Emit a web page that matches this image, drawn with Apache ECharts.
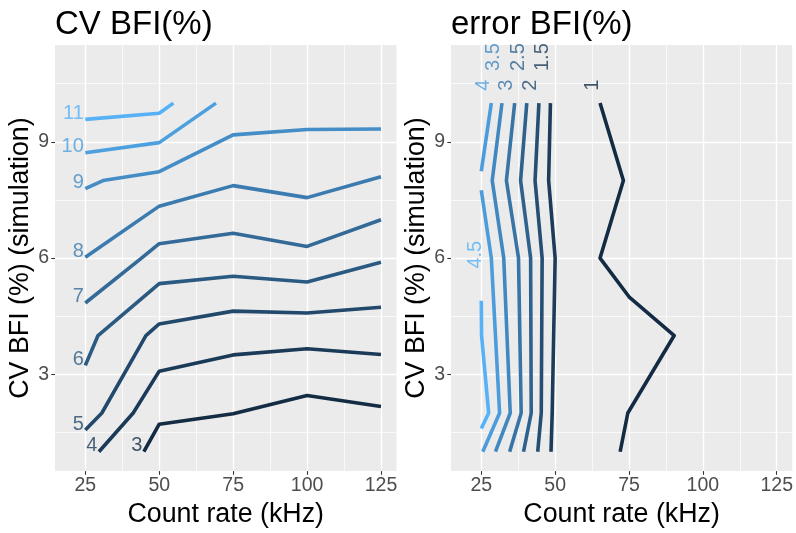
<!DOCTYPE html>
<html><head><meta charset="utf-8">
<script src="https://cdn.jsdelivr.net/npm/echarts@6/dist/echarts.min.js"></script>
<style>html,body{margin:0;padding:0;background:#fff}#c{width:796px;height:533px}</style>
</head><body><div id="c"></div>
<script>
// ---- axis ticks ----
const xMajor = [25, 50, 75, 100, 125];
const xMinor = [37.5, 62.5, 87.5, 112.5];
const yMajor = [3, 6, 9];
const yMinor = [1.5, 4.5, 7.5, 10.5];
const X_MIN = 14.75, X_MAX = 130.25, Y_MIN = 0.5, Y_MAX = 11.5;

// ---- left panel: CV BFI(%) contour paths [count rate (kHz), CV BFI (%)] ----
const cvLevels = [3, 4, 5, 6, 7, 8, 9, 10, 11];
const cv3 = [[44.8,1],[50,1.71],[75,1.98],[100,2.45],[125,2.17]];
const cv4 = [[29.6,1],[41.2,2],[50,3.08],[75,3.5],[100,3.66],[125,3.51]];
const cv5 = [[25,1.56],[30.6,2],[45.5,4],[50,4.3],[75,4.63],[100,4.58],[125,4.73]];
const cv6 = [[25,3.23],[29.3,4],[50,5.34],[75,5.53],[100,5.38],[125,5.89]];
const cv7 = [[25,4.84],[44,6],[50,6.37],[75,6.64],[100,6.3],[125,6.99]];
const cv8 = [[25,6.02],[50,7.34],[75,7.87],[100,7.56],[125,8.1]];
const cv9 = [[25,7.79],[31,8],[50,8.23],[75,9.18],[100,9.32],[125,9.33]];
const cv10 = [[25,8.72],[50,8.98],[69.2,10]];
const cv11 = [[25,9.58],[50,9.74],[54.8,10]];
const cvPaths = [cv3, cv4, cv5, cv6, cv7, cv8, cv9, cv10, cv11];

// ---- right panel: error BFI(%) contour paths ----
const errLevels = [1, 1.5, 2, 2.5, 3, 3.5, 4, 4, 4.5];
const err1  = [[65.2,10],[73.1,8],[65.2,6],[75,5],[90.3,4],[74.6,2],[72,1]];
const err15 = [[48.4,10],[47.8,8],[50,6],[49,2],[48.6,1]];
const err2  = [[44.5,10],[43.2,8],[45.6,6],[45.3,2],[44.1,1]];
const err25 = [[40.4,10],[38.3,8],[41.7,6],[41.9,2],[39.3,1]];
const err3  = [[36.3,10],[33.5,8],[37.6,6],[38.5,2],[34.6,1]];
const err35 = [[32,10],[28.7,8],[32.6,6],[34.8,2],[29.8,1]];
const err4a = [[28.4,10],[25,8.24]];
const err4b = [[25,7.75],[28.4,6],[31.2,2],[25.5,1]];
const err45 = [[25,4.9],[25.1,4],[27.5,2],[25,1.6]];
const errPaths = [err1, err15, err2, err25, err3, err35, err4a, err4b, err45];
const errLabelled = [true, true, true, true, true, true, true, false, true];
const errLabelText = ['1', '1.5', '2', '2.5', '3', '3.5', '4', '4', '4.5'];

// ---- ggplot-like colour gradient (Lab interpolation) ----
function hexToRgb(h){h=h.replace('#','');return [0,2,4].map(i=>parseInt(h.substr(i,2),16));}
function toLin(c){c/=255;return c<=0.04045?c/12.92:Math.pow((c+0.055)/1.055,2.4);}
function fromLin(c){const v=c<=0.0031308?12.92*c:1.055*Math.pow(c,1/2.4)-0.055;return Math.max(0,Math.min(255,Math.round(v*255)));}
const WN=[0.95047,1,1.08883];
function rgbToLab(rgb){const [r,g,b]=rgb.map(toLin);
  const X=(0.4124564*r+0.3575761*g+0.1804375*b)/WN[0];
  const Y=(0.2126729*r+0.7151522*g+0.0721750*b)/WN[1];
  const Z=(0.0193339*r+0.1191920*g+0.9503041*b)/WN[2];
  const f=t=>t>0.008856?Math.cbrt(t):7.787*t+16/116;
  const fx=f(X),fy=f(Y),fz=f(Z);return [116*fy-16,500*(fx-fy),200*(fy-fz)];}
function labToHex(lab){const fy=(lab[0]+16)/116,fx=fy+lab[1]/500,fz=fy-lab[2]/200;
  const fi=t=>{const t3=t*t*t;return t3>0.008856?t3:(t-16/116)/7.787;};
  const X=fi(fx)*WN[0],Y=fi(fy)*WN[1],Z=fi(fz)*WN[2];
  const r=3.2404542*X-1.5371385*Y-0.4985314*Z;
  const g=-0.9692660*X+1.8760108*Y+0.0415560*Z;
  const b=0.0556434*X-0.2040259*Y+1.0572252*Z;
  return '#'+[r,g,b].map(fromLin).map(v=>v.toString(16).padStart(2,'0')).join('');}
const LOW=rgbToLab(hexToRgb('#132B43')), HIGH=rgbToLab(hexToRgb('#56B1F7'));
function grad(t){return labToHex(LOW.map((v,i)=>v+(HIGH[i]-v)*t));}

const FONT = '"Liberation Sans", Arial, Helvetica, sans-serif';
const LW = 3.6;

function xAxes(gi){
  return [
    {type:'value', gridIndex:gi, min:X_MIN, max:X_MAX, position:'bottom',
     axisLine:{show:false}, axisTick:{show:false, customValues:xMinor},
     axisLabel:{show:false, customValues:xMinor},
     splitLine:{show:true, lineStyle:{color:'#ffffff', width:0.7}}},
    {type:'value', gridIndex:gi, min:X_MIN, max:X_MAX, position:'bottom',
     name:'Count rate (kHz)', nameLocation:'middle', nameGap:13,
     nameTextStyle:{fontSize:26.8, color:'#000', fontFamily:FONT, verticalAlign:'top'},
     axisLine:{show:false},
     axisTick:{show:true, customValues:xMajor, length:3.7, lineStyle:{color:'#333333', width:1.07}},
     axisLabel:{customValues:xMajor, color:'#4D4D4D', fontSize:19.5, fontFamily:FONT, margin:5},
     splitLine:{show:true, lineStyle:{color:'#ffffff', width:1.4}}}
  ];
}
function yAxes(gi){
  return [
    {type:'value', gridIndex:gi, min:Y_MIN, max:Y_MAX, position:'left',
     axisLine:{show:false}, axisTick:{show:false, customValues:yMinor},
     axisLabel:{show:false, customValues:yMinor},
     splitLine:{show:true, lineStyle:{color:'#ffffff', width:0.7}}},
    {type:'value', gridIndex:gi, min:Y_MIN, max:Y_MAX, position:'left',
     name:'CV BFI (%) (simulation)', nameLocation:'middle', nameGap:16,
     nameTextStyle:{fontSize:26.8, color:'#000', fontFamily:FONT},
     axisLine:{show:false},
     axisTick:{show:true, customValues:yMajor, length:3.7, lineStyle:{color:'#333333', width:1.07}},
     axisLabel:{customValues:yMajor, color:'#4D4D4D', fontSize:19.5, fontFamily:FONT, margin:6},
     splitLine:{show:true, lineStyle:{color:'#ffffff', width:1.4}}}
  ];
}

const series = [];
// left lines
const cvMin = Math.min(...cvLevels), cvMax = Math.max(...cvLevels);
cvPaths.forEach((p, i) => {
  series.push({type:'line', xAxisIndex:1, yAxisIndex:1, data:p, symbol:'none', silent:true,
    animation:false, lineStyle:{color:grad((cvLevels[i]-cvMin)/(cvMax-cvMin)), width:LW, cap:'butt', join:'round'}});
});
series.push({type:'scatter', xAxisIndex:1, yAxisIndex:1, symbolSize:1, silent:true, animation:false,
  itemStyle:{color:'rgba(0,0,0,0)'},
  data: cvPaths.map((p, i) => ({value:[p[0][0], p[0][1], String(cvLevels[i])],
    label:{color:grad((cvLevels[i]-cvMin)/(cvMax-cvMin))}})),
  label:{show:true, position:'left', distance:1, offset:[0,-6], fontSize:20, fontFamily:FONT,
    formatter:(q)=>q.data.value[2]}
});
// right lines
const erMin = Math.min(...errLevels), erMax = Math.max(...errLevels);
errPaths.forEach((p, i) => {
  series.push({type:'line', xAxisIndex:3, yAxisIndex:3, data:p, symbol:'none', silent:true,
    animation:false, lineStyle:{color:grad((errLevels[i]-erMin)/(erMax-erMin)), width:LW, cap:'butt', join:'round'}});
});
const errLab = [];
errPaths.forEach((p, i) => { if (errLabelled[i]) errLab.push({value:[p[0][0], p[0][1], errLabelText[i]],
  label:{color:grad((errLevels[i]-erMin)/(erMax-erMin))}}); });
series.push({type:'scatter', xAxisIndex:3, yAxisIndex:3, symbolSize:1, silent:true, animation:false,
  itemStyle:{color:'rgba(0,0,0,0)'},
  data: errLab,
  label:{show:true, position:'inside', rotate:90, align:'center', verticalAlign:'middle',
    fontSize:20, fontFamily:FONT, formatter:(q)=>q.data.value[2]},
  labelLayout:(params)=>{
    const t = errLab[params.dataIndex].value[2];
    const upper = (t.indexOf('.') >= 0);
    // offsets are applied in the label's rotated frame: screen (sx, sy) -> (dx=-sy, dy=sx)
    const sx = t === '4.5' ? -6 : -8;
    const sy = upper ? -46 : -18;
    return {dx: -sy, dy: sx};
  }
});

const chart = echarts.init(document.getElementById('c'), null, {renderer:'canvas'});
chart.setOption({
  animation:false,
  backgroundColor:'#ffffff',
  title:[
    {text:'CV BFI(%)', left:55, top:8, padding:0, textStyle:{fontSize:33, fontWeight:'normal', color:'#000', fontFamily:FONT}},
    {text:'error BFI(%)', left:451, top:8, padding:0, textStyle:{fontSize:33, fontWeight:'normal', color:'#000', fontFamily:FONT}}
  ],
  grid:[
    {left:55, top:45, width:341.5, height:437, show:true, backgroundColor:'#EBEBEB', borderWidth:0},
    {left:451, top:45, width:341.5, height:437, show:true, backgroundColor:'#EBEBEB', borderWidth:0}
  ],
  xAxis:[...xAxes(0), ...xAxes(1)],
  yAxis:[...yAxes(0), ...yAxes(1)],
  series
});
</script></body></html>
